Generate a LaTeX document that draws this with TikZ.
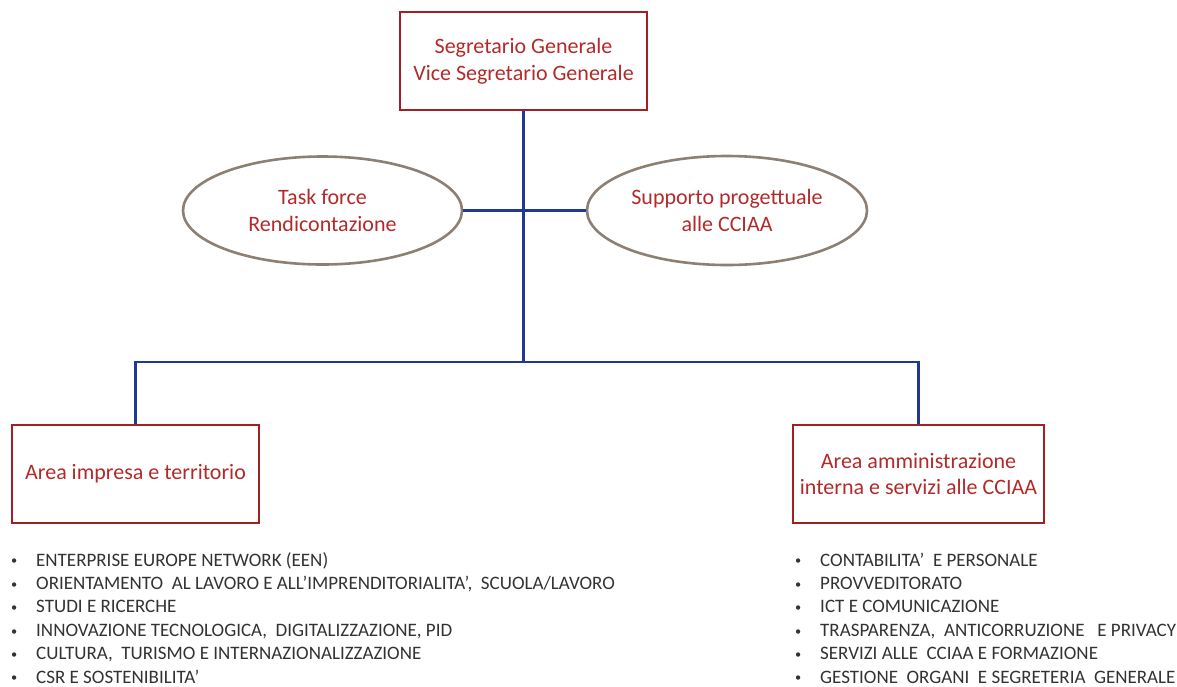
\documentclass[tikz,border=0pt]{standalone}
\usepackage{fontspec}
\usepackage{graphicx}
\setmainfont{Carlito}
\usetikzlibrary{shapes.geometric}
\definecolor{boxred}{RGB}{160,32,36}
\definecolor{txtred}{RGB}{178,42,42}
\definecolor{lineblue}{RGB}{32,58,148}
\definecolor{ellgray}{RGB}{140,128,116}
\definecolor{txtgray}{RGB}{50,50,50}
\tikzset{
  redbox/.style={draw=boxred, line width=2.8pt, rectangle, inner sep=0pt, text=txtred, align=center, font=\fontsize{22}{26.5}\selectfont},
  ovalbox/.style={draw=ellgray, line width=2.6pt, ellipse, inner sep=0pt},
  ovaltext/.style={inner sep=0pt, text=txtred, align=center, font=\fontsize{22}{26.5}\selectfont},
  link/.style={draw=lineblue, line width=2.6pt},
  item/.style={anchor=base west, inner sep=0pt, text=txtgray, font=\fontsize{19}{21}\selectfont}
}
\newcommand{\itm}[1]{\makebox[26pt][l]{\hspace{1pt}\raisebox{0.12ex}{\scalebox{0.65}{\textbullet}}}#1}
\begin{document}
\begin{tikzpicture}[x=1pt,y=-1pt]
\useasboundingbox (0,0) rectangle (1177,686);
% nodes
\node[redbox, minimum width=247pt, minimum height=98pt] (top) at (523.5,61) {Segretario Generale\\Vice Segretario Generale};
\node[ovalbox, minimum width=279pt, minimum height=108pt] (ellL) at (322.5,210.5) {};
\node[ovaltext] (ellLt) at (ellL.center) {Task force\\Rendicontazione};
\node[ovalbox, minimum width=280pt, minimum height=109pt] (ellR) at (727,210.5) {};
\node[ovaltext] (ellRt) at (ellR.center) {Supporto progettuale\\alle CCIAA};
\node[redbox, minimum width=247pt, minimum height=98pt] (areaL) at (135.5,474) {Area impresa e territorio};
\node[redbox, minimum width=251pt, minimum height=98pt] (areaR) at (918.5,474) {Area amministrazione\\interna e servizi alle CCIAA};
\coordinate (hub) at (523.5,362);
% connectors
\draw[link] (top.south) -- (hub);
\draw[link] (ellL.east) -- (ellR.west);
\draw[link] (areaL.north) |- (hub) -| (areaR.north);
% lists
\node[item] (l1) at (10,566) {\itm{ENTERPRISE EUROPE NETWORK (EEN)}};
\node[item] (l2) at (10,589.4) {\itm{ORIENTAMENTO\ \ AL LAVORO E ALL’IMPRENDITORIALITA’,\ \ SCUOLA/LAVORO}};
\node[item] (l3) at (10,612.8) {\itm{STUDI E RICERCHE}};
\node[item] (l4) at (10,636.2) {\itm{INNOVAZIONE TECNOLOGICA,\ \ DIGITALIZZAZIONE, PID}};
\node[item] (l5) at (10,659.6) {\itm{CULTURA,\ \ TURISMO E INTERNAZIONALIZZAZIONE}};
\node[item] (l6) at (10,683) {\itm{CSR E SOSTENIBILITA’}};
\node[item] (r1) at (794,566) {\itm{CONTABILITA’\ \ E PERSONALE}};
\node[item] (r2) at (794,589.4) {\itm{PROVVEDITORATO}};
\node[item] (r3) at (794,612.8) {\itm{ICT E COMUNICAZIONE}};
\node[item] (r4) at (794,636.2) {\itm{TRASPARENZA,\ \ ANTICORRUZIONE\ \ \ E PRIVACY}};
\node[item] (r5) at (794,659.6) {\itm{SERVIZI ALLE\ \ CCIAA E FORMAZIONE}};
\node[item] (r6) at (794,683) {\itm{GESTIONE\ \ ORGANI\ \ E SEGRETERIA\ \ GENERALE}};
\end{tikzpicture}
\end{document}
